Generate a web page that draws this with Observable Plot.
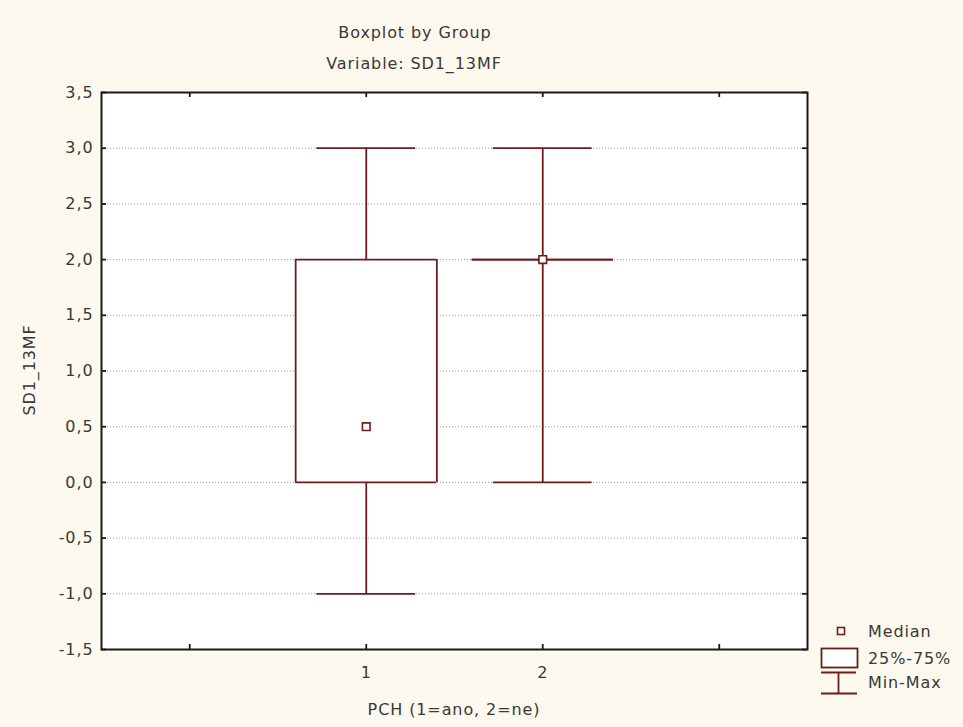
<!DOCTYPE html>
<html>
<head>
<meta charset="utf-8">
<script src="https://cdn.jsdelivr.net/npm/d3@7"></script>
<script src="https://cdn.jsdelivr.net/npm/@observablehq/plot@0.6"></script>
<style>
  html, body { margin: 0; padding: 0; background: #fdf9ee; }
  #wrap { position: relative; width: 963px; height: 727px; overflow: hidden;
          font-family: "DejaVu Sans", sans-serif; color: #383838; }
  .ov { position: absolute; font-size: 16px; letter-spacing: 0.9px; white-space: nowrap; line-height: 20px; }
</style>
</head>
<body>
<div id="wrap">
  <div id="chart"></div>
  <div class="ov" style="left:0;width:830px;top:23px;text-align:center">Boxplot by Group</div>
  <div class="ov" style="left:0;width:828px;top:54px;text-align:center">Variable: SD1_13MF</div>
  <div class="ov" style="left:30px;top:370px;transform:translate(-50%,-50%) rotate(-90deg)">SD1_13MF</div>
  <div class="ov" style="left:0;width:908px;top:700px;text-align:center">PCH (1=ano, 2=ne)</div>
  <svg id="legend" style="position:absolute;left:810px;top:615px" width="153" height="90"></svg>
</div>
<script>
// ---- data ----
const groups = [1, 2];
const mins = [-1, 0];
const q1s = [0, 2];
const medians = [0.5, 2];
const q3s = [2, 2];
const maxs = [3, 3];
const yTicks = [-1.5, -1.0, -0.5, 0.0, 0.5, 1.0, 1.5, 2.0, 2.5, 3.0, 3.5];
const gridValues = [-1.0, -0.5, 0.0, 0.5, 1.0, 1.5, 2.0, 2.5, 3.0];
const xTickPositions = [0, 1, 2, 3];
const xTickLabels = [1, 2];
const legendLabels = ["Median", "25%-75%", "Min-Max"];

// ---- layout / style ----
const W = 963, H = 727;
const mL = 101, mR = 156, mT = 92, mB = 78;
const plotW = W - mL - mR, plotH = H - mT - mB;
const col = "#6e1c1c";
const SW = 1.8;
const BOX = 0.4, CAP = 0.28, TICK = 5;
const fmt = d => d.toFixed(1).replace(".", ",");

const data = groups.map((g, i) => ({g, min: mins[i], q1: q1s[i], med: medians[i], q3: q3s[i], max: maxs[i]}));

const chart = Plot.plot({
  width: W, height: H,
  marginLeft: mL, marginRight: mR, marginTop: mT, marginBottom: mB,
  style: "background: transparent; font-family: 'DejaVu Sans', sans-serif; font-size: 16px; letter-spacing: 0.9px; color: #383838;",
  x: {domain: [-0.5, 3.5], axis: null},
  y: {domain: [-1.5, 3.5], axis: null},
  marks: [
    Plot.frame({fill: "white", stroke: null}),
    Plot.ruleY(gridValues, {stroke: "#999", strokeDasharray: "1,2", strokeWidth: 1}),
    // whiskers
    Plot.ruleX(data, {x: "g", y1: "min", y2: "max", stroke: col, strokeWidth: SW}),
    // box fill
    Plot.rect(data, {x1: d => d.g - BOX, x2: d => d.g + BOX, y1: "q1", y2: "q3", fill: "white"}),
    // box edges
    Plot.ruleY(data, {y: "q1", x1: d => d.g - BOX, x2: d => d.g + BOX, stroke: col, strokeWidth: SW}),
    Plot.ruleY(data, {y: "q3", x1: d => d.g - BOX, x2: d => d.g + BOX, stroke: col, strokeWidth: SW}),
    Plot.ruleX(data, {x: d => d.g - BOX, y1: "q1", y2: "q3", stroke: col, strokeWidth: SW}),
    Plot.ruleX(data, {x: d => d.g + BOX, y1: "q1", y2: "q3", stroke: col, strokeWidth: SW}),
    // caps
    Plot.ruleY(data, {y: "min", x1: d => d.g - CAP, x2: d => d.g + CAP, stroke: col, strokeWidth: SW}),
    Plot.ruleY(data, {y: "max", x1: d => d.g - CAP, x2: d => d.g + CAP, stroke: col, strokeWidth: SW}),
    // median
    Plot.dot(data, {x: "g", y: "med", symbol: "square", r: 4.3, fill: "white", stroke: col, strokeWidth: 1.6}),
    // inward ticks
    Plot.ruleY(yTicks, {insetRight: plotW - TICK, stroke: "#1a1a1a", strokeWidth: 1.8}),
    Plot.ruleY(yTicks, {insetLeft: plotW - TICK, stroke: "#1a1a1a", strokeWidth: 1.8}),
    Plot.ruleX(xTickPositions, {insetTop: plotH - TICK, stroke: "#1a1a1a", strokeWidth: 1.8}),
    Plot.ruleX(xTickPositions, {insetBottom: plotH - TICK, stroke: "#1a1a1a", strokeWidth: 1.8}),
    Plot.frame({stroke: "#1a1a1a", strokeWidth: 2}),
    Plot.axisY(yTicks, {anchor: "left", tickSize: 0, tickPadding: 8, tickFormat: fmt, label: null, fill: "#383838"}),
    Plot.axisX(xTickLabels, {anchor: "bottom", tickSize: 0, tickPadding: 17, tickFormat: d => String(d), label: null, fill: "#383838"})
  ]
});
document.getElementById("chart").appendChild(chart);

// ---- legend ----
const lg = d3.select("#legend");
const lc = col;
lg.append("rect").attr("x", 27.5).attr("y", 12.5).attr("width", 7).attr("height", 7)
  .attr("fill", "white").attr("stroke", lc).attr("stroke-width", 1.6);
lg.append("rect").attr("x", 11.5).attr("y", 33.5).attr("width", 36).attr("height", 19)
  .attr("fill", "white").attr("stroke", lc).attr("stroke-width", 1.8);
lg.append("line").attr("x1", 11).attr("x2", 46).attr("y1", 57.5).attr("y2", 57.5).attr("stroke", lc).attr("stroke-width", 1.8);
lg.append("line").attr("x1", 28.5).attr("x2", 28.5).attr("y1", 57.5).attr("y2", 78.5).attr("stroke", lc).attr("stroke-width", 1.8);
lg.append("line").attr("x1", 11).attr("x2", 47).attr("y1", 78.5).attr("y2", 78.5).attr("stroke", lc).attr("stroke-width", 1.8);
const ly = [16, 43, 67];
lg.selectAll("text").data(legendLabels).join("text")
  .attr("x", 58).attr("y", (d, i) => ly[i]).attr("dy", "0.35em")
  .attr("font-family", "DejaVu Sans, sans-serif").attr("font-size", 16)
  .attr("letter-spacing", "0.9px").attr("fill", "#383838").text(d => d);
</script>
</body>
</html>
